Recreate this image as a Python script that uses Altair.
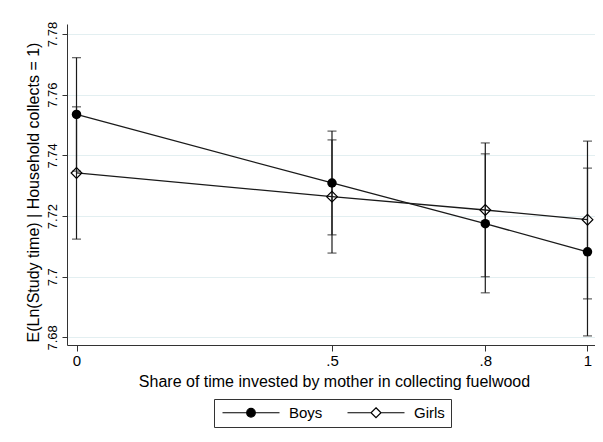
import altair as alt
import pandas as pd

# ---- data ----
x_share = [0, 0.5, 0.8, 1]
x_tick_labels = ["0", ".5", ".8", "1"]
series_names = ["Boys", "Girls"]

boys_mean = [7.7535, 7.7309, 7.7175, 7.7082]
boys_lo = [7.7348, 7.7138, 7.6947, 7.6805]
boys_hi = [7.7722, 7.7480, 7.7405, 7.7358]

girls_mean = [7.7342, 7.7264, 7.7220, 7.7188]
girls_lo = [7.7124, 7.7078, 7.7000, 7.6927]
girls_hi = [7.7560, 7.7451, 7.7441, 7.7447]

y_ticks = [7.68, 7.70, 7.72, 7.74, 7.76, 7.78]

rows = []
for name, m, lo, hi in [("Boys", boys_mean, boys_lo, boys_hi),
                        ("Girls", girls_mean, girls_lo, girls_hi)]:
    for i, xv in enumerate(x_share):
        rows.append({"series": name, "x": xv, "mean": m[i], "lo": lo[i], "hi": hi[i]})
df = pd.DataFrame(rows)

FONT = "Liberation Sans"
INK = "#1a1a1a"

x_label_expr = " : ".join(
    f"datum.value == {v} ? '{l}'" for v, l in zip(x_share, x_tick_labels)
) + " : ''"

x_scale = alt.Scale(domain=[-0.0186, 1.0147], nice=False, zero=False)
y_scale = alt.Scale(domain=[7.6775, 7.7833], nice=False, zero=False)

x_axis = alt.Axis(
    values=x_share, labelExpr=x_label_expr, grid=False,
    title="Share of time invested by mother in collecting fuelwood",
    titleX=267, titleY=41, titleBaseline="alphabetic", titleAlign="center",
    titleFont=FONT, titleFontSize=16, titleFontWeight="normal", titleColor="black",
    labelFont=FONT, labelFontSize=15, labelColor="black", labelPadding=2,
    tickSize=6, tickColor="#333", domainColor="#333", labelFlush=False,
)
y_axis = alt.Axis(
    values=y_ticks, format=".2~f", grid=True, gridColor="#e3eff1", gridWidth=1,
    title="E(Ln(Study time) | Household collects = 1)",
    titleX=-29, titleY=168, titleAngle=270, titleBaseline="alphabetic", titleAlign="center",
    titleFont=FONT, titleFontSize=16, titleFontWeight="normal", titleColor="black",
    labelAngle=270, labelAlign="center", labelBaseline="alphabetic", labelPadding=6,
    labelFont=FONT, labelFontSize=13, labelColor="black",
    tickSize=5, tickColor="#333", domainColor="#333", labelFlush=False,
)

X = alt.X("x:Q", scale=x_scale, axis=x_axis)

base = alt.Chart(df)

rules = base.mark_rule(color=INK, strokeWidth=1.2).encode(
    x=X,
    y=alt.Y("lo:Q", scale=y_scale, axis=y_axis),
    y2="hi:Q",
    detail="series:N",
)
caps_lo = base.mark_tick(orient="horizontal", size=9, thickness=1.2, color=INK).encode(
    x=X, y=alt.Y("lo:Q", scale=y_scale, axis=y_axis))
caps_hi = base.mark_tick(orient="horizontal", size=9, thickness=1.2, color=INK).encode(
    x=X, y=alt.Y("hi:Q", scale=y_scale, axis=y_axis))

lines = base.mark_line(color=INK, strokeWidth=1.3).encode(
    x=X, y=alt.Y("mean:Q", scale=y_scale, axis=y_axis), detail="series:N")

boys_pts = base.transform_filter("datum.series == 'Boys'").mark_point(
    shape="circle", filled=True, color="black", size=90, opacity=1).encode(
    x=X, y=alt.Y("mean:Q", scale=y_scale, axis=y_axis))
girls_pts = base.transform_filter("datum.series == 'Girls'").mark_point(
    shape="diamond", filled=False, color="black", size=115, strokeWidth=1.2, opacity=1).encode(
    x=X, y=alt.Y("mean:Q", scale=y_scale, axis=y_axis))

# legend symbols: a 57px line segment with the marker in the middle
# (symbol size 100 -> one path unit = 5px; path drawn to the right of the anchor)
path_boys = ("M-1,0L10.4,0M5.56,0A0.86,0.86,0,1,1,3.84,0"
             "A0.86,0.86,0,1,1,5.56,0Z")
path_girls = "M-1,0L3.7,0M5.7,0L10.4,0M4.7,-1L5.7,0L4.7,1L3.7,0Z"

legend = alt.Legend(
    title=None, orient="none", legendX=147, legendY=375, direction="horizontal",
    symbolSize=100, symbolStrokeColor="black", symbolStrokeWidth=1.2, symbolOpacity=1,
    labelFont=FONT, labelFontSize=15, labelColor="black", labelOffset=54,
    columnPadding=22, padding=6, strokeColor="#333", fillColor="white",
)
legend_layer = base.transform_filter("false").mark_point(
    filled=False, color="black", stroke="black", strokeWidth=1.2, opacity=1).encode(
    x=X, y=alt.Y("mean:Q", scale=y_scale, axis=y_axis),
    shape=alt.Shape("series:N", scale=alt.Scale(domain=series_names,
                                                range=[path_boys, path_girls]),
                    legend=legend),
    fill=alt.Fill("series:N", scale=alt.Scale(domain=series_names,
                                              range=["black", "white"]),
                  legend=legend),
    stroke=alt.Stroke("series:N", scale=alt.Scale(domain=series_names,
                                                  range=["black", "black"]),
                      legend=legend),
)

chart = alt.layer(rules, caps_lo, caps_hi, lines, boys_pts, girls_pts, legend_layer).properties(
    width=528, height=321,
    autosize=alt.AutoSizeParams(type="none"),
    padding={"left": 59, "top": 16, "right": 0, "bottom": 85},
    background="white",
).configure_view(strokeWidth=0)

chart.save("out.html", embed_options={"renderer": "svg", "actions": False})
